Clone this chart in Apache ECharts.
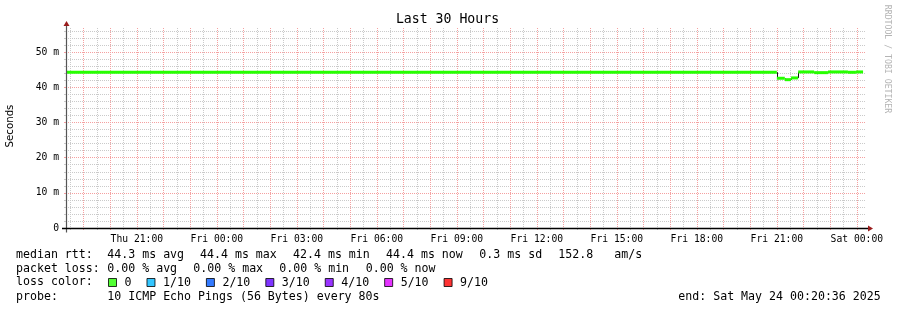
<!DOCTYPE html>
<html><head><meta charset="utf-8">
<script src="https://cdn.jsdelivr.net/npm/echarts@6/dist/echarts.min.js"></script>
<style>html,body{margin:0;padding:0;background:#fff}#c{width:897px;height:310px}</style>
</head><body><div id="c"></div>
<script>
// ---------------- data ----------------
const TITLE = 'Last 30 Hours';
const Y_TITLE = 'Seconds';
const WATERMARK = 'RRDTOOL / TOBI OETIKER';
const RANGE_START = '2025-05-22 18:20:36';
const RANGE_END = '2025-05-24 00:20:36';
const Y_MAX = 56.9;
const yTickValues = [0, 10, 20, 30, 40, 50];
const yTickLabels = ['0', '10 m', '20 m', '30 m', '40 m', '50 m'];
const xTickTimes = ['2025-05-22 21:00', '2025-05-23 00:00', '2025-05-23 03:00', '2025-05-23 06:00', '2025-05-23 09:00',
  '2025-05-23 12:00', '2025-05-23 15:00', '2025-05-23 18:00', '2025-05-23 21:00', '2025-05-24 00:00'];
const xTickLabels = ['Thu 21:00', 'Fri 00:00', 'Fri 03:00', 'Fri 06:00', 'Fri 09:00',
  'Fri 12:00', 'Fri 15:00', 'Fri 18:00', 'Fri 21:00', 'Sat 00:00'];
// median rtt (ms) as steps: value i holds from segBounds[i] to segBounds[i+1]
const segBounds = ['2025-05-22 18:20:36', '2025-05-23 21:00', '2025-05-23 21:18', '2025-05-23 21:32', '2025-05-23 21:48',
  '2025-05-23 22:24', '2025-05-23 22:55', '2025-05-23 23:40', '2025-05-23 23:58', '2025-05-24 00:14'];
const medianMs = [44.3, 42.6, 42.2, 42.7, 44.4, 44.2, 44.4, 44.3, 44.4];
const lossNames = ['0', '1/10', '2/10', '3/10', '4/10', '5/10', '9/10'];
const lossColors = ['#26ff00', '#00b8ff', '#0059ff', '#5e00ff', '#7e00ff', '#dd00ff', '#ff0000'];
const rttLabel = 'median rtt:';
const rttStats = ['44.3 ms avg', '44.4 ms max', '42.4 ms min', '44.4 ms now', '0.3 ms sd', '152.8', 'am/s'];
const lossLabel = 'packet loss:';
const lossStats = ['0.00 % avg', '0.00 % max', '0.00 % min', '0.00 % now'];
const lossColorLabel = 'loss color:';
const probeLabel = 'probe:';
const probeText = '10 ICMP Echo Pings (56 Bytes) every 80s';
const endText = 'end: Sat May 24 00:20:36 2025';

// ---------------- helpers / layout ----------------
function toMs(s) {
  const [d, t] = s.split(' ');
  const [Y, M, D] = d.split('-').map(Number);
  const tp = t.split(':').map(Number);
  return Date.UTC(Y, M - 1, D, tp[0], tp[1], tp[2] || 0);
}
const START = toMs(RANGE_START), END = toMs(RANGE_END);
const xTickValues = xTickTimes.map(toMs);
const segs = medianMs.map((v, i) => [toMs(segBounds[i]), toMs(segBounds[i + 1]), v,
  i + 1 < medianMs.length ? medianMs[i + 1] : v]);

// grid positions: hourly (major) / half-hourly (minor) ; every 10 (major) / every 2 (minor)
const HOUR = 3600000, HALF = 1800000;
const xMajor = [], xMinor = [];
for (let t = Math.ceil(START / HALF) * HALF; t < END; t += HALF) ((t % HOUR) === 0 ? xMajor : xMinor).push(t);
const yMajor = [], yMinor = [];
for (let v = 2; v < Y_MAX; v += 2) (v % 10 === 0 ? yMajor : yMinor).push(v);

const MONO = '"DejaVu Sans Mono"';
const RED = '#f5a0a0';
const GREY = '#cacaca';

function gridAxis(values, color, idxOpts) {
  return Object.assign({
    type: 'value', show: true,
    axisLine: { show: false }, axisLabel: { show: false },
    axisTick: { show: true, customValues: values, length: 2, lineStyle: { color: color, width: 1 } },
    splitLine: { show: true, lineStyle: { color: color, width: 1, type: [1, 1] } }
  }, idxOpts);
}

function renderAxes(params, api) {
  const cs = params.coordSys;
  const xL = cs.x, xR = cs.x + cs.width, yT = cs.y;
  const y0 = Math.round(api.coord([START, 0])[1]) + 0.5;
  const x0 = Math.round(api.coord([START, 0])[0]) + 0.5;
  return { type: 'group', children: [
    { type: 'line', shape: { x1: x0, y1: y0 + 4, x2: x0, y2: yT - 4 }, style: { stroke: '#555', lineWidth: 1.2 } },
    { type: 'line', shape: { x1: xL - 4, y1: y0, x2: xR + 4, y2: y0 }, style: { stroke: '#000', lineWidth: 1.3 } },
    { type: 'polygon', shape: { points: [[x0 - 3, yT - 2], [x0 + 3, yT - 2], [x0, yT - 7]] }, style: { fill: '#9a1c1c' } },
    { type: 'polygon', shape: { points: [[xR + 2, y0 - 3], [xR + 2, y0 + 3], [xR + 7, y0]] }, style: { fill: '#9a1c1c' } }
  ] };
}

function renderSteps(params, api) {
  const t1 = api.value(1), v = api.value(2), vn = api.value(3);
  if (v === vn) return { type: 'group', children: [] };
  const a = api.coord([t1, v]), b = api.coord([t1, vn]);
  const x = Math.round(a[0]) + 0.5;
  return { type: 'line', shape: { x1: x, y1: a[1], x2: x, y2: b[1] }, style: { stroke: '#111', lineWidth: 1 } };
}

function renderMedian(params, api) {
  const v = api.value(2);
  const a = api.coord([api.value(0), v]), b = api.coord([api.value(1), v]);
  return { type: 'line', shape: { x1: a[0], y1: a[1], x2: b[0], y2: b[1] }, style: { stroke: lossColors[0], lineWidth: 3, lineCap: 'butt' } };
}

const txt = (s, x, y, extra) => Object.assign({
  type: 'text', x: x, y: y, silent: true,
  style: { text: s, font: '11.6px ' + MONO, fill: '#000', textAlign: 'left', textVerticalAlign: 'middle' }
}, extra || {});

const rttX = [107.3, 200, 293, 386, 479.3, 558.3, 614.3];
const lossX = [107.3, 193.3, 279.3, 365.7];
const L1 = 254.8, L2 = 268.6, L3 = 282.4, L4 = 297.2;
const graphics = [
  txt(TITLE, 447.5, 20, { style: { text: TITLE, font: '13.2px ' + MONO, fill: '#000', textAlign: 'center', textVerticalAlign: 'middle' } }),
  txt(Y_TITLE, 10, 126, { rotation: Math.PI / 2, style: { text: Y_TITLE, font: '10.2px "DejaVu Sans"', fill: '#000', textAlign: 'center', textVerticalAlign: 'middle' } }),
  txt(WATERMARK, 887, 59, { rotation: -Math.PI / 2, style: { text: WATERMARK, font: '8.2px ' + MONO, fill: '#b4b4b4', textAlign: 'center', textVerticalAlign: 'middle' } }),
  txt(rttLabel, 16, L1),
  ...rttStats.map((s, i) => txt(s, rttX[i], L1)),
  txt(lossLabel, 16, L2),
  ...lossStats.map((s, i) => txt(s, lossX[i], L2)),
  txt(lossColorLabel, 16, L3),
  txt(probeLabel, 16, L4),
  txt(probeText, 107.3, L4),
  txt(endText, 678.3, L4)
];

const chart = echarts.init(document.getElementById('c'), null, { renderer: 'canvas' });
chart.setOption({
  animation: false,
  backgroundColor: '#fff',
  grid: { left: 66, top: 28, width: 800, height: 200, containLabel: false, outerBoundsMode: 'none' },
  xAxis: [
    {
      type: 'value', min: START, max: END, position: 'bottom',
      axisLine: { show: false }, axisTick: { show: false }, splitLine: { show: false },
      axisLabel: {
        customValues: xTickValues,
        formatter: v => { const i = xTickValues.indexOf(v); return i >= 0 ? xTickLabels[i] : ''; },
        margin: 6, fontFamily: MONO, fontSize: 9.7, color: '#000'
      }
    },
    gridAxis(xMinor, GREY, { min: START, max: END, position: 'bottom' }),
    gridAxis(xMajor, RED, { min: START, max: END, position: 'bottom' })
  ],
  yAxis: [
    {
      type: 'value', min: 0, max: Y_MAX, position: 'left',
      axisLine: { show: false }, axisTick: { show: false }, splitLine: { show: false },
      axisLabel: {
        customValues: yTickValues,
        formatter: v => { const i = yTickValues.indexOf(v); return i >= 0 ? yTickLabels[i] : ''; },
        margin: 7, fontFamily: MONO, fontSize: 9.7, color: '#000'
      }
    },
    gridAxis(yMinor, GREY, { min: 0, max: Y_MAX, position: 'left' }),
    gridAxis(yMajor, RED, { min: 0, max: Y_MAX, position: 'left' })
  ],
  legend: {
    left: 108, top: 276.5, padding: 0, itemWidth: 8, itemHeight: 8, itemGap: 15, icon: 'rect',
    selectedMode: false, data: lossNames,
    itemStyle: { borderColor: '#000', borderWidth: 1 },
    textStyle: { fontFamily: MONO, fontSize: 11.6, color: '#000', padding: [0, 0, 0, 3] }
  },
  graphic: { elements: graphics },
  series: [
    { type: 'custom', name: 'axes', silent: true, z: 5, renderItem: renderAxes, data: [[START, 0]], encode: { x: 0, y: 1 } },
    { type: 'custom', name: 'steps', silent: true, z: 2, renderItem: renderSteps, data: segs, encode: { x: [0, 1], y: [2, 3] } },
    { type: 'custom', name: 'median rtt', silent: true, z: 3, renderItem: renderMedian, data: segs, encode: { x: [0, 1], y: [2, 3] } },
    ...lossNames.map((n, i) => ({ type: 'scatter', name: n, data: [], itemStyle: { color: lossColors[i] } }))
  ]
});
</script>
</body></html>
